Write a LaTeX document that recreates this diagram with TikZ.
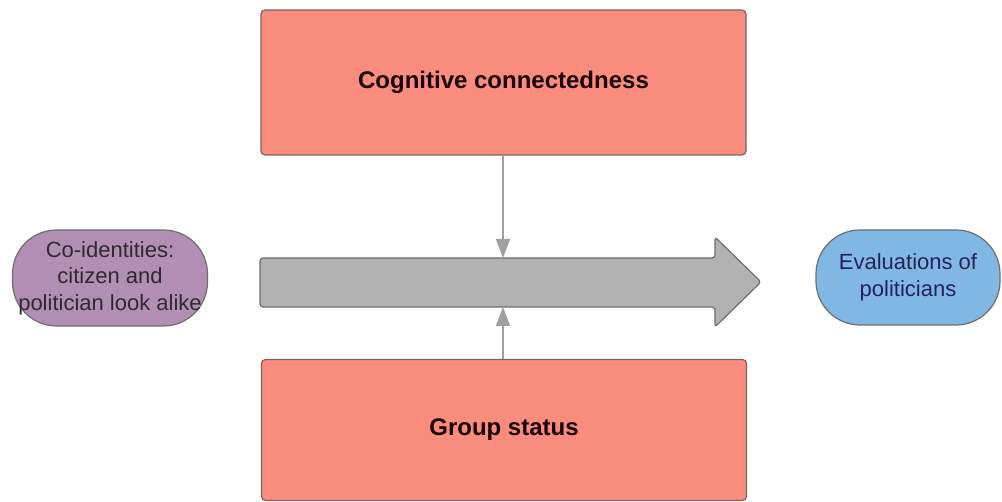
\documentclass[tikz,border=0pt]{standalone}
\usepackage{fontspec}
\setmainfont{Liberation Sans}
\usetikzlibrary{arrows.meta}
\definecolor{salmon}{HTML}{FA8C7E}
\definecolor{boxedge}{HTML}{7A6462}
\definecolor{arrgray}{HTML}{B2B2B2}
\definecolor{arredge}{HTML}{6E6E6E}
\definecolor{purp}{HTML}{B28EB5}
\definecolor{blu}{HTML}{80B7E3}
\definecolor{txt}{HTML}{2E2A30}
\tikzset{
  factor/.style={draw=boxedge, line width=1.2pt, fill=salmon, rounded corners=4pt,
    minimum width=485pt, minimum height=145pt, font=\bfseries\fontsize{24}{28}\selectfont, text=black!90!red},
  pill/.style={draw=arredge, line width=1.2pt, rounded corners=44pt, align=center,
    font=\fontsize{22}{26.5}\selectfont, inner sep=0pt},
  conn/.style={draw=gray!80, line width=1.3pt, -{Triangle[length=19pt,width=14pt]}, color=gray!75}
}
\begin{document}
\begin{tikzpicture}[x=1pt,y=-1pt]
\useasboundingbox (0,0) rectangle (1002,502);
\fill[white] (0,0) rectangle (1002,502);
\node[factor] (cc) at (503.5,82.5) {Cognitive connectedness};
\node[factor, minimum height=141pt] (gs) at (504,430) {Group status};
% big arrow
\draw[arredge, fill=arrgray, line width=1.2pt, rounded corners=3pt]
  (260,258) -- (715,258) -- (715,237) -- (761,282) -- (715,327) -- (715,307) -- (260,307) -- cycle;
\coordinate (top) at (503,258);
\coordinate (bot) at (503,307);
\draw[conn] (cc.south -| top) -- (top);
\draw[conn] (gs.north -| bot) -- (bot);
\node[pill, fill=purp, text=txt, minimum width=195pt, minimum height=96pt] (co) at (110,278)
  {Co-identities:\\citizen and\\politician look alike};
\node[pill, fill=blu, text=txt!80!blue, minimum width=184pt, minimum height=95pt] (ev) at (908,277.5)
  {Evaluations of\\politicians};
\end{tikzpicture}
\end{document}
